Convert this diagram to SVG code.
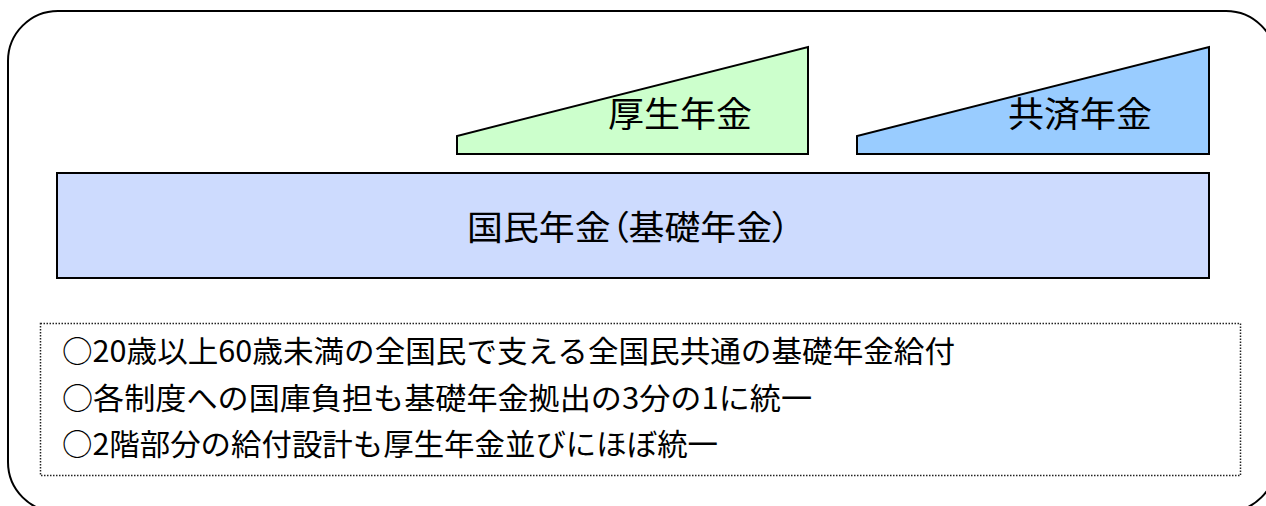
<svg xmlns="http://www.w3.org/2000/svg" width="1266" height="506" viewBox="0 0 1266 506">
<style>
.t{font-family:"Noto Sans CJK JP","Noto Sans CJK SC",sans-serif;fill:#000}
.p{font-feature-settings:"palt"}
.shape{stroke:#000;stroke-width:2}
</style>
<rect width="1266" height="506" fill="#fff"/>
<g id="frame"><rect x="8" y="11" width="1268" height="501" rx="50" ry="50" fill="none" stroke="#000" stroke-width="2"/></g>
<g id="kosei">
<polygon class="shape" points="457,154 457,136 808,47 808,154" fill="#CCFFCC" stroke-width="1.8"/>
<text class="t" x="608" y="127" font-size="35" textLength="144" lengthAdjust="spacingAndGlyphs">厚生年金</text>
</g>
<g id="kyosai">
<polygon class="shape" points="857,154 857,136 1209,47 1209,154" fill="#99CCFF" stroke-width="1.8"/>
<text class="t" x="1008" y="127" font-size="35" textLength="144" lengthAdjust="spacingAndGlyphs">共済年金</text>
</g>
<g id="kokumin">
<rect class="shape" x="57" y="173" width="1152" height="105" fill="#CDDBFE" stroke="#111" stroke-width="2.5"/>
<text class="t p" x="467" y="240" font-size="34" textLength="323" lengthAdjust="spacingAndGlyphs">国民年金（基礎年金）</text>
</g>
<g id="notes">
<rect x="40.5" y="323.5" width="1200" height="152" fill="none" stroke="#222" stroke-width="1.5" stroke-dasharray="1.5,1.5"/>
<text class="t" x="62" y="362" font-size="30" textLength="893" lengthAdjust="spacingAndGlyphs">○20歳以上60歳未満の全国民で支える全国民共通の基礎年金給付</text>
<text class="t" x="62" y="409" font-size="30" textLength="750" lengthAdjust="spacingAndGlyphs">○各制度への国庫負担も基礎年金拠出の3分の1に統一</text>
<text class="t" x="62" y="455" font-size="30" textLength="656" lengthAdjust="spacingAndGlyphs">○2階部分の給付設計も厚生年金並びにほぼ統一</text>
</g>
<g id="connectors"></g>
</svg>
